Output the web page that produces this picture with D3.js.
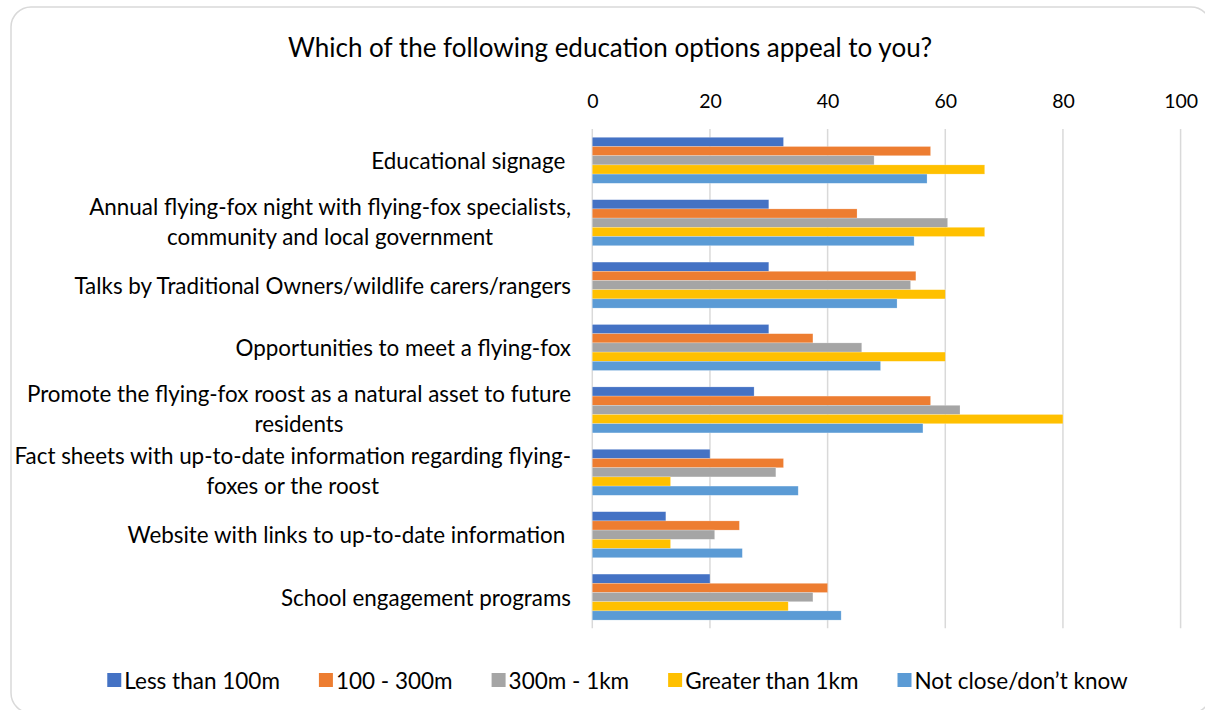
<!DOCTYPE html>
<html>
<head>
<meta charset="utf-8">
<script src="https://cdn.jsdelivr.net/npm/d3@7"></script>
<style>
  html, body { margin: 0; padding: 0; background: #ffffff; }
  svg { display: block; font-family: Lato, "Open Sans", sans-serif; }
  text { white-space: pre; fill: #000000; }
</style>
</head>
<body>
<svg id="chart" width="1205" height="710"></svg>
<script>
// Survey question title
const title = "Which of the following education options appeal to you?";

// Education options (wrapped lines separated by "\n")
const categories = [
  "Educational signage ",
  "Annual flying-fox night with flying-fox specialists,\ncommunity and local government",
  "Talks by Traditional Owners/wildlife carers/rangers",
  "Opportunities to meet a flying-fox",
  "Promote the flying-fox roost as a natural asset to future\nresidents",
  "Fact sheets with up-to-date information regarding flying-\nfoxes or the roost",
  "Website with links to up-to-date information ",
  "School engagement programs"
];

// Distance from the roost (legend order)
const seriesNames = ["Less than 100m", "100 - 300m", "300m - 1km", "Greater than 1km", "Not close/don\u2019t know"];
const seriesColors = ["#4472C4", "#ED7D31", "#A5A5A5", "#FFC000", "#5B9BD5"];

// Percentage of respondents per option, one array per distance group
const lessThan100m   = [32.5, 30.0, 30.0, 30.0, 27.5, 20.0, 12.5, 20.0];
const from100to300m  = [57.5, 45.0, 55.0, 37.5, 57.5, 32.5, 25.0, 40.0];
const from300mTo1km  = [47.9, 60.4, 54.1, 45.8, 62.5, 31.2, 20.8, 37.5];
const greaterThan1km = [66.7, 66.7, 60.0, 60.0, 80.0, 13.3, 13.3, 33.3];
const notCloseDontKnow = [56.9, 54.7, 51.8, 49.0, 56.2, 35.0, 25.5, 42.3];

const seriesValues = [lessThan100m, from100to300m, from300mTo1km, greaterThan1km, notCloseDontKnow];

// Axis ticks
const tickValues = [0, 20, 40, 60, 80, 100];

const svg = d3.select("#chart");

// Chart area outline
svg.append("rect")
  .attr("x", 11).attr("y", 7)
  .attr("width", 1200).attr("height", 706)
  .attr("rx", 20).attr("ry", 20)
  .attr("fill", "#ffffff")
  .attr("stroke", "#d9d9d9")
  .attr("stroke-width", 1.5);

// Title
svg.append("text")
  .attr("x", 610).attr("y", 47)
  .attr("text-anchor", "middle")
  .attr("dominant-baseline", "central")
  .style("font-size", "26px")
  .text(title);

const x = d3.scaleLinear().domain([0, 100]).range([592.3, 1180.6]);
const y = d3.scaleBand().domain(d3.range(categories.length))
  .range([129.1, 628.3]).paddingInner(0.263).paddingOuter(0.1315);
const ySub = d3.scaleBand().domain(d3.range(seriesNames.length))
  .range([0, y.bandwidth()]);

// Vertical gridlines
svg.append("g").selectAll("line")
  .data(tickValues)
  .join("line")
  .attr("x1", d => x(d)).attr("x2", d => x(d))
  .attr("y1", 129.1).attr("y2", 628.3)
  .attr("stroke", "#d9d9d9")
  .attr("stroke-width", 1.5);

// Top axis labels
const axis = svg.append("g")
  .attr("transform", "translate(0,100)")
  .call(d3.axisTop(x).tickValues(tickValues).tickSize(0).tickPadding(0));
axis.select(".domain").remove();
axis.selectAll("text")
  .attr("dominant-baseline", "central")
  .attr("dy", null)
  .style("font-size", "19.5px")
  .style("font-family", "Lato, 'Open Sans', sans-serif")
  .attr("fill", "#000000");

// Bars
const groups = svg.append("g").selectAll("g")
  .data(categories.map((c, i) => i))
  .join("g")
  .attr("transform", i => `translate(0,${y(i)})`);

groups.selectAll("rect")
  .data(i => seriesValues.map((vals, s) => ({ s, v: vals[i] })))
  .join("rect")
  .attr("x", x(0))
  .attr("y", d => ySub(d.s))
  .attr("width", d => x(d.v) - x(0))
  .attr("height", ySub.bandwidth())
  .attr("fill", d => seriesColors[d.s])
  .attr("stroke", "#ffffff")
  .attr("stroke-opacity", 0.35)
  .attr("stroke-width", 0.6);

// Category labels: wrapped lines centred on each other, block right-aligned
const labelRight = 571;
const lineGap = 30;
categories.forEach((c, i) => {
  const lines = c.split("\n");
  const cy = y(i) + y.bandwidth() / 2 - (lines.length > 1 ? 1.5 : 0);
  const t = svg.append("text")
    .attr("text-anchor", "middle")
    .style("font-size", "22.4px");
  const spans = lines.map((ln, k) => t.append("tspan")
    .attr("y", cy + (k - (lines.length - 1) / 2) * lineGap)
    .attr("dominant-baseline", "central")
    .text(ln));
  const maxW = d3.max(spans, s => s.node().getComputedTextLength());
  spans.forEach(s => s.attr("x", labelRight - maxW / 2));
});

// Legend, centred below the plot
const legend = svg.append("g");
const sq = 14, textGap = 3, itemGap = 39, legendY = 680;
let cursor = 0;
seriesNames.forEach((name, s) => {
  const item = legend.append("g").attr("transform", `translate(${cursor},0)`);
  item.append("rect")
    .attr("x", 0).attr("y", legendY - sq / 2)
    .attr("width", sq).attr("height", sq)
    .attr("fill", seriesColors[s]);
  const t = item.append("text")
    .attr("x", sq + textGap).attr("y", legendY)
    .attr("dominant-baseline", "central")
    .style("font-size", "22.5px")
    .text(name);
  cursor += sq + textGap + t.node().getComputedTextLength() + itemGap;
});
const legendWidth = cursor - itemGap;
legend.attr("transform", `translate(${617.5 - legendWidth / 2},0)`);
</script>
</body>
</html>
